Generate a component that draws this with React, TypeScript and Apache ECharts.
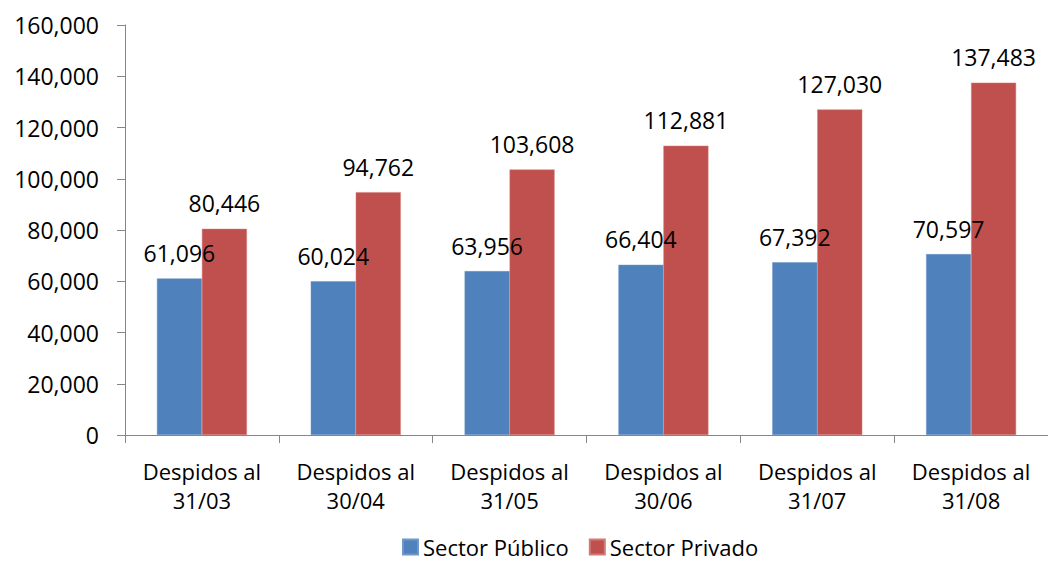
import React, { useEffect, useRef } from "react";
import * as echarts from "echarts";

const categories = [
  "Despidos al\n31/03",
  "Despidos al\n30/04",
  "Despidos al\n31/05",
  "Despidos al\n30/06",
  "Despidos al\n31/07",
  "Despidos al\n31/08",
];
const sectorPublico = [61096, 60024, 63956, 66404, 67392, 70597];
const sectorPrivado = [80446, 94762, 103608, 112881, 127030, 137483];
const seriesNames = ["Sector Público", "Sector Privado"];

const fmt = (v: number) => v.toLocaleString("en-US");
const FONT = "'Open Sans', 'Noto Sans', sans-serif";

export default function App() {
  const ref = useRef<HTMLDivElement>(null);
  useEffect(() => {
    if (!ref.current) return;
    const chart = echarts.init(ref.current, null, { renderer: "svg" });
    const labelCfg = {
      show: true,
      position: "top" as const,
      distance: 14,
      fontSize: 23,
      fontFamily: FONT,
      color: "#000",
      formatter: (p: any) => fmt(p.value),
    };
    chart.setOption({
      animation: false,
      backgroundColor: "#fff",
      textStyle: { fontFamily: FONT },
      grid: { left: 125, top: 25, width: 933, height: 410, containLabel: false },
      legend: {
        data: seriesNames,
        top: 536,
        left: 402,
        padding: 0,
        itemWidth: 15,
        itemHeight: 15,
        itemGap: 20,
        icon: "rect",
        textStyle: { fontSize: 22, lineHeight: 22, fontFamily: FONT, color: "#000" },
      },
      xAxis: {
        type: "category",
        data: categories,
        axisLine: { lineStyle: { color: "#868686", width: 1 } },
        axisTick: { show: true, length: 8, alignWithLabel: false, lineStyle: { color: "#868686" } },
        axisLabel: {
          interval: 0,
          fontSize: 22,
          fontFamily: FONT,
          color: "#000",
          lineHeight: 29,
          margin: 21,
        },
        splitLine: { show: false },
      },
      yAxis: {
        type: "value",
        min: 0,
        max: 160000,
        interval: 20000,
        axisLine: { show: true, lineStyle: { color: "#868686", width: 1 } },
        axisTick: { show: true, length: 8, lineStyle: { color: "#868686" } },
        axisLabel: {
          fontSize: 23,
          fontFamily: FONT,
          color: "#000",
          margin: 26,
          formatter: (v: number) => fmt(v),
        },
        splitLine: { show: false },
      },
      series: [
        {
          name: seriesNames[0],
          type: "bar",
          data: sectorPublico,
          barWidth: 45,
          barGap: "0%",
          itemStyle: { color: "#4F81BD", borderColor: "#6f97c9", borderWidth: 0.5 },
          label: labelCfg,
        },
        {
          name: seriesNames[1],
          type: "bar",
          data: sectorPrivado,
          barWidth: 45,
          barGap: "0%",
          itemStyle: { color: "#C0504D", borderColor: "#d27a77", borderWidth: 0.5 },
          label: labelCfg,
        },
      ],
    });
    return () => chart.dispose();
  }, []);
  return (
    <div
      ref={ref}
      style={{ position: "fixed", left: 0, top: 0, width: 1048, height: 564, background: "#fff" }}
    />
  );
}
